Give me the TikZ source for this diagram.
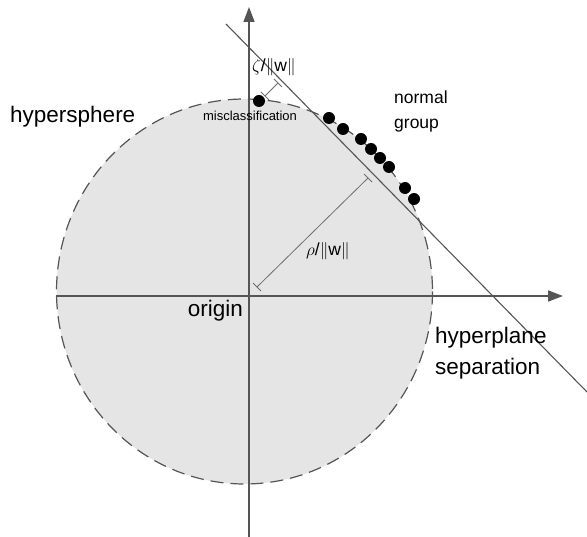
\documentclass[tikz,border=0pt]{standalone}
\usepackage{fontspec}
\setmainfont{Liberation Sans}
\setsansfont{Liberation Sans}
\usetikzlibrary{arrows.meta,calc}
\definecolor{spherefill}{RGB}{229,229,229}
\definecolor{axisgray}{RGB}{85,85,85}
\definecolor{dimgray}{RGB}{110,110,110}
\tikzset{
  axisline/.style={draw=axisgray,line width=1.6pt,-{Triangle[length=15pt,width=11pt]}},
  planeline/.style={draw=axisgray,line width=1.1pt},
  dimline/.style={draw=dimgray,line width=0.8pt},
  datapoint/.style={circle,fill=black,inner sep=0pt,minimum size=12pt},
  biglabel/.style={font=\fontsize{22.5}{31}\selectfont,inner sep=0pt,align=left},
  midlabel/.style={font=\fontsize{17.5}{25}\selectfont,inner sep=0pt,align=left},
  smalllabel/.style={font=\fontsize{13}{15}\selectfont,inner sep=0pt},
}
\begin{document}
\begin{tikzpicture}[x=1pt,y=-1pt]
\useasboundingbox (0,0) rectangle (587,537);
% hypersphere
\fill[spherefill] (244.5,291.5) ellipse [x radius=188, y radius=192.5];
\draw[axisgray,line width=1.2pt,dash pattern=on 13pt off 7pt] (244.5,291.5) ellipse [x radius=188, y radius=192.5];
% axes
\coordinate (xl) at (56,296);
\coordinate (xr) at (563,296);
\coordinate (yb) at (249,537);
\coordinate (yt) at (249,7);
\draw[axisline] (xl) -- (xr);
\draw[axisline] (yb) -- (yt);
% hyperplane
\coordinate (h1) at (226,24);
\coordinate (h2) at (587,392);
\draw[planeline] (h1) -- (h2);
% distance rho/||w||
\coordinate (r1) at (257,287);
\coordinate (r2) at (368,178);
\draw[dimline] (r1) -- (r2);
\draw[dimline] ($(r1)+(-4,-4)$) -- ($(r1)+(4,4)$);
\draw[dimline] ($(r2)+(-4,-4)$) -- ($(r2)+(4,4)$);
% distance zeta/||w||
\coordinate (z1) at (265,96);
\coordinate (z2) at (278,83);
\draw[dimline] (z1) -- (z2);
\draw[dimline] ($(z1)+(-4,-4)$) -- ($(z1)+(4,4)$);
\draw[dimline] ($(z2)+(-4,-4)$) -- ($(z2)+(4,4)$);
% points
\node[datapoint] (m) at (259,101) {};
\node[datapoint] (p1) at (329,118) {};
\node[datapoint] (p2) at (343,129) {};
\node[datapoint] (p3) at (361,139) {};
\node[datapoint] (p4) at (371,149) {};
\node[datapoint] (p5) at (380,158) {};
\node[datapoint] (p6) at (389,167) {};
\node[datapoint] (p7) at (405,188) {};
\node[datapoint] (p8) at (414,199) {};
% labels
\node[biglabel,anchor=base west] (hs) at (10,123) {hypersphere};
\node[biglabel,anchor=base east] (or) at (243,317) {origin};
\node[biglabel,anchor=base west] (hp) at (435,375) {hyperplane\\separation};
\node[midlabel,anchor=base west] (ng) at (394,129) {normal\\group};
\node[smalllabel,anchor=base] (mc) at (250,121) {misclassification};
\node[midlabel,anchor=base west] (zl) at (252,72) {$\zeta$/$\|$w$\|$};
\node[midlabel,anchor=base west] (rl) at (306,256) {$\rho$/$\|$w$\|$};
\end{tikzpicture}
\end{document}
